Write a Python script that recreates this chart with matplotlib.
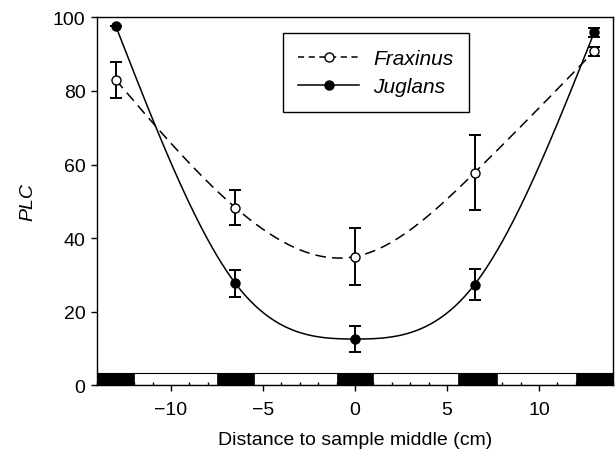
import numpy as np
import matplotlib
matplotlib.use("Agg")
import matplotlib.pyplot as plt
from matplotlib.patches import Rectangle
from matplotlib.ticker import MultipleLocator

matplotlib.rcParams['font.family'] = ["Liberation Sans", "DejaVu Sans"]
matplotlib.rcParams['font.size'] = 14

# sample positions (cm from middle)
distance = [-13, -6.5, 0, 6.5, 13]
fraxinus = [83.0, 48.3, 35.0, 57.8, 90.8]
fraxinus_err = [5.0, 4.7, 7.7, 10.2, 1.2]
juglans = [97.6, 27.7, 12.6, 27.4, 95.9]
juglans_err = [0.0, 3.7, 3.5, 4.3, 1.1]

# black blocks along the bottom strip (start, end in cm)
block_start = [-14, -7.5, -1, 5.6, 12]
block_end = [-12, -5.5, 1, 7.7, 14]
STRIP_H = 3.4


def natural_spline(xs, ys, xnew):
    xs = np.asarray(xs, float)
    ys = np.asarray(ys, float)
    n = len(xs)
    h = np.diff(xs)
    A = np.zeros((n, n))
    r = np.zeros(n)
    A[0, 0] = A[-1, -1] = 1
    for i in range(1, n - 1):
        A[i, i - 1] = h[i - 1]
        A[i, i] = 2 * (h[i - 1] + h[i])
        A[i, i + 1] = h[i]
        r[i] = 3 * ((ys[i + 1] - ys[i]) / h[i] - (ys[i] - ys[i - 1]) / h[i - 1])
    c = np.linalg.solve(A, r)
    b = (ys[1:] - ys[:-1]) / h - h * (2 * c[:-1] + c[1:]) / 3
    d = (c[1:] - c[:-1]) / (3 * h)
    idx = np.clip(np.searchsorted(xs, xnew) - 1, 0, n - 2)
    dx = xnew - xs[idx]
    return ys[idx] + b[idx] * dx + c[idx] * dx ** 2 + d[idx] * dx ** 3


fig = plt.figure(figsize=(6.16, 4.6), dpi=100)
ax = fig.add_axes([0.157, 0.16, 0.8386, 0.8])

xs = np.linspace(distance[0], distance[-1], 300)
ax.plot(xs, natural_spline(distance, fraxinus, xs), color="black", lw=1.1,
        linestyle=(0, (7, 4)), zorder=4)
ax.plot(xs, natural_spline(distance, juglans, xs), color="black", lw=1.1, zorder=4)

ax.errorbar(distance, fraxinus, yerr=fraxinus_err, fmt="none", ecolor="black",
            elinewidth=1.4, capsize=4.5, capthick=1.4, zorder=5)
ax.errorbar(distance, juglans, yerr=juglans_err, fmt="none", ecolor="black",
            elinewidth=1.4, capsize=4.5, capthick=1.4, zorder=5)
ax.plot(distance, fraxinus, "o", mfc="white", mec="black", ms=6.5, mew=1.0, zorder=6)
ax.plot(distance, juglans, "o", mfc="black", mec="black", ms=6.5, mew=1.0, zorder=6)

# legend proxies
h1, = ax.plot([], [], color="black", lw=1.1, linestyle=(0, (4, 3)),
              marker="o", mfc="white", mec="black", ms=6.5)
h2, = ax.plot([], [], color="black", lw=1.1, marker="o", mfc="black", mec="black", ms=6.5)
leg = ax.legend([h1, h2], ["Fraxinus", "Juglans"], loc="upper left",
                bbox_to_anchor=(0.36, 0.957), borderaxespad=0, fancybox=False,
                edgecolor="black", framealpha=1, handlelength=2.9,
                borderpad=0.75, labelspacing=0.45, handletextpad=0.7,
                prop={"style": "italic", "size": 15})
leg.get_frame().set_linewidth(1.0)

# bottom strip: white base with black blocks
ax.add_patch(Rectangle((-14, 0), 28, STRIP_H, facecolor="white", edgecolor="black",
                       lw=0.8, zorder=1))
for s, e in zip(block_start, block_end):
    ax.add_patch(Rectangle((s, 0), e - s, STRIP_H, facecolor="black",
                           edgecolor="black", lw=0.5, zorder=3))

ax.set_xlim(-14.04, 14.04)
ax.set_ylim(0, 100)
ax.xaxis.set_major_locator(MultipleLocator(5))
ax.xaxis.set_minor_locator(MultipleLocator(1))
ax.yaxis.set_major_locator(MultipleLocator(20))
ax.tick_params(axis="both", which="major", direction="out", length=4.5, width=1.0)
ax.tick_params(axis="x", which="minor", direction="in", length=2.5, width=1.0)
ax.tick_params(axis="x", which="major", pad=7)
ax.xaxis.set_major_formatter(matplotlib.ticker.FuncFormatter(
    lambda v, p: f"{int(v)}".replace("-", "\u2212")))
for sp in ax.spines.values():
    sp.set_linewidth(1.0)

ax.set_xlabel("Distance to sample middle (cm)", labelpad=9)
ax.set_ylabel("PLC", style="italic", labelpad=12)

plt.savefig("out.png", dpi=100)
